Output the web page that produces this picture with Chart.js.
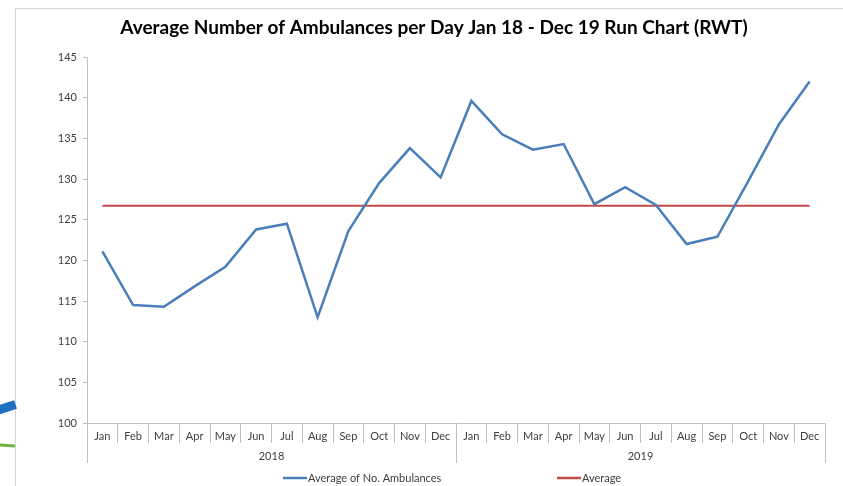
<!DOCTYPE html>
<html>
<head>
<meta charset="utf-8">
<script src="https://cdn.jsdelivr.net/npm/chart.js@4"></script>
<style>
  html, body { margin: 0; padding: 0; background: #fff; overflow: hidden; }
  #wrap { position: relative; width: 843px; height: 486px; }
  #frame {
    position: absolute; left: 15px; top: 8px; width: 900px; height: 600px;
    border-left: 1px solid #d4d4d4; border-top: 1px solid #d4d4d4;
    pointer-events: none;
  }
  .blob1 { position: absolute; left: -4px; top: 403px; width: 20px; height: 9px; background: #1f6fc0; transform: rotate(-18deg); }
  .blob2 { position: absolute; left: -2px; top: 444px; width: 17px; height: 3px; background: #6cb33f; transform: rotate(4deg); }
</style>
</head>
<body>
<div id="wrap">
  <canvas id="myChart" width="843" height="486"></canvas>
  <div id="frame"></div>
  <div class="blob1"></div>
  <div class="blob2"></div>
</div>
<script>
// ===================== DADOS =====================

const months = [
  "Jan", "Feb", "Mar", "Apr", "May", "Jun", "Jul", "Aug", "Sep", "Oct", "Nov", "Dec",
  "Jan", "Feb", "Mar", "Apr", "May", "Jun", "Jul", "Aug", "Sep", "Oct", "Nov", "Dec",
];
const years = ["2018", "2019"];

const ambulances = [
  121.1, 114.5, 114.3, 116.8, 119.2, 123.8, 124.5, 113.0, 123.6, 129.5, 133.8, 130.2,
  139.6, 135.5, 133.6, 134.3, 126.9, 129.0, 126.8, 122.0, 122.9, 129.7, 136.7, 142.0,
];
const average = [
  126.7, 126.7, 126.7, 126.7, 126.7, 126.7, 126.7, 126.7, 126.7, 126.7, 126.7, 126.7,
  126.7, 126.7, 126.7, 126.7, 126.7, 126.7, 126.7, 126.7, 126.7, 126.7, 126.7, 126.7,
];
const yTicks = { min: 100, max: 145, step: 5 };

const blue = "#4a7ebb";
const red = "#be4b48";
const axisGray = "#bfbfbf";
const textGray = "#404040";

// ===================== LEGENDA =====================

const legendaBaixo = {
  id: "legendaBaixo",
  afterDraw(chart) {
    const ctx = chart.ctx;
    const y = 478;
    const items = [
      { text: "Average of No. Ambulances", color: blue, x: 283 },
      { text: "Average", color: red, x: 557 },
    ];
    ctx.save();
    ctx.font = "11px Lato";
    ctx.textBaseline = "middle";
    ctx.fillStyle = textGray;
    items.forEach((it) => {
      ctx.strokeStyle = it.color;
      ctx.lineWidth = 2.5;
      ctx.beginPath();
      ctx.moveTo(it.x, y);
      ctx.lineTo(it.x + 24, y);
      ctx.stroke();
      ctx.fillText(it.text, it.x + 25, y);
    });
    ctx.restore();
  },
};

// ===================== GRAFICO =====================

Chart.defaults.font.family = "Lato";
Chart.defaults.color = textGray;

new Chart(document.getElementById("myChart"), {
  type: "line",
  data: {
    labels: months,
    datasets: [
      {
        label: "Average of No. Ambulances",
        data: ambulances,
        borderColor: blue,
        borderWidth: 2.5,
        pointRadius: 0,
        tension: 0,
      },
      {
        label: "Average",
        data: average,
        borderColor: red,
        borderWidth: 2,
        pointRadius: 0,
        tension: 0,
      },
    ],
  },
  options: {
    responsive: false,
    animation: false,
    layout: { padding: { left: 43, right: 18, top: 0, bottom: 23 } },
    plugins: {
      legend: { display: false },
      tooltip: { enabled: false },
      title: {
        display: true,
        text: "Average Number of Ambulances per Day Jan 18 - Dec 19 Run Chart (RWT)",
        color: "#000",
        font: { size: 19, weight: "bold" },
        padding: { top: 16.6, bottom: 17.6 },
      },
    },
    scales: {
      y: {
        min: yTicks.min,
        max: yTicks.max,
        ticks: { stepSize: yTicks.step, font: { size: 11 }, padding: 6 },
        grid: { drawOnChartArea: false, tickLength: 4, color: axisGray },
        border: { color: axisGray },
        afterFit(s) { s.width = 44; },
      },
      x: {
        weight: 1,
        offset: true,
        ticks: { autoSkip: false, maxRotation: 0, font: { size: 11 }, padding: -13 },
        grid: { offset: true, drawOnChartArea: false, tickLength: 20, color: axisGray },
        border: { color: axisGray },
        afterFit(s) { s.height = 20; },
      },
      ano: {
        type: "category",
        position: "bottom",
        weight: 2,
        labels: years,
        offset: true,
        ticks: { autoSkip: false, maxRotation: 0, font: { size: 11 }, padding: -13 },
        grid: { offset: true, drawOnChartArea: false, tickLength: 20, color: axisGray },
        border: { display: false },
        afterFit(s) { s.height = 20; },
      },
    },
  },
  plugins: [legendaBaixo],
});
</script>
</body>
</html>
